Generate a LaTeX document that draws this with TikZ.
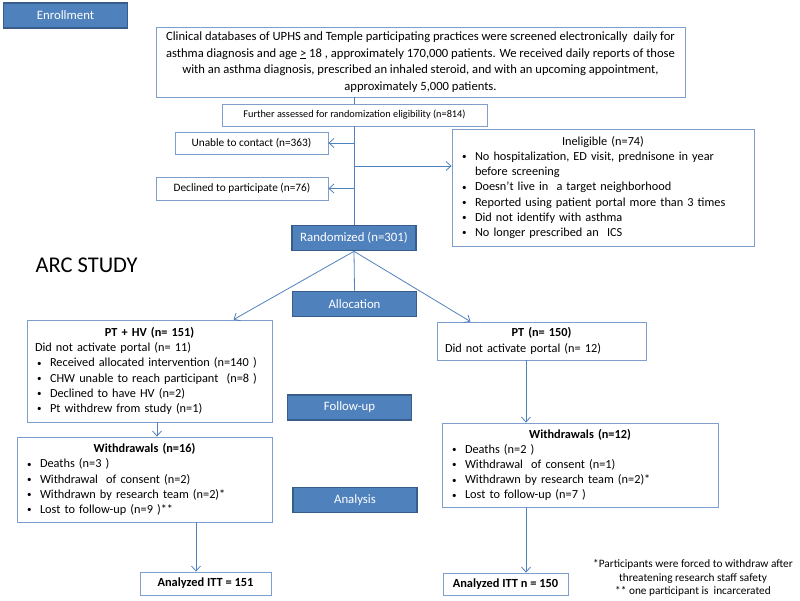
\documentclass[tikz,border=0pt]{standalone}
\usepackage{fontspec}
\setmainfont{Carlito}
\usetikzlibrary{arrows.meta}

\definecolor{arrline}{RGB}{79,129,189}
\definecolor{boxline}{RGB}{126,158,206}
\definecolor{phasefill}{RGB}{79,129,189}
\definecolor{phaseline}{RGB}{56,93,138}

\newcommand{\itm}{\hspace*{2pt}\makebox[13pt][l]{\raisebox{0.6pt}{\fontsize{9}{9}\selectfont\textbullet}}}
\newcommand{\ttl}[1]{\makebox[\linewidth]{\textbf{#1}}}

\tikzset{
  box/.style={draw=boxline, fill=white, line width=0.8pt, inner xsep=8pt, inner ysep=0pt,
    font=\fontsize{12.3}{15.2}\selectfont},
  smallbox/.style={box, font=\fontsize{11.3}{13}\selectfont, inner xsep=0pt},
  phase/.style={draw=phaseline, line width=1.6pt, fill=phasefill, text=white,
    minimum width=124pt, minimum height=25pt, inner sep=0pt, font=\fontsize{12.8}{14}\selectfont},
  link/.style={draw=arrline, line width=0.8pt},
  arr/.style={link, ->},
}

\begin{document}
\begin{tikzpicture}[x=1pt,y=-1pt,>={Straight Barb[length=5pt,width=9pt]}]

\useasboundingbox (0,0) rectangle (800,600);

% The phase labels
\node[phase] (enroll) at (65.5,15.5) {Enrollment};
\node[phase] (random) at (354,238) {Randomized (n=301)};
\node[phase] (alloc) at (354.5,304) {Allocation};
\node[phase] (follow) at (349.5,407.5) {Follow-up};
\node[phase] (analysis) at (355,500) {Analysis};

\node[anchor=west, font=\fontsize{22.5}{26}\selectfont] (arc) at (32,265) {ARC STUDY};

% The enrollment part
\node[box, minimum width=529pt, minimum height=70pt, font=\fontsize{12.6}{16.7}\selectfont, align=center, inner xsep=0pt] (screen) at (420.5,62)
  {Clinical databases of UPHS and Temple participating practices were screened electronically\ \ daily for\\
   asthma diagnosis and age \underline{>} 18 , approximately 170,000 patients. We received daily reports of those\\
   with an asthma diagnosis, prescribed an inhaled steroid, and with an upcoming appointment,\\
   approximately 5,000 patients.};
\node[smallbox, minimum width=265pt, minimum height=22pt, font=\fontsize{10.3}{12}\selectfont] (assess) at (354.5,115) {Further assessed for randomization eligibility (n=814)};
\node[smallbox, minimum width=153pt, minimum height=22pt] (unable) at (251.5,143) {Unable to contact (n=363)};
\node[smallbox, minimum width=172pt, minimum height=23pt] (declined) at (242,188.5) {Declined to participate (n=76)};
\node[box, text width=286pt, minimum height=117pt, align=left] (inelig) at (603,187.5)
  {\ttl{\normalfont Ineligible (n=74)}\\
   \itm No hospitalization, ED visit, prednisone in year\\
   \hspace*{15pt}before screening\\
   \itm Doesn’t live in\ \ a target neighborhood\\
   \itm Reported using patient portal more than 3 times\\
   \itm Did not identify with asthma\\
   \itm No longer prescribed an\ \ ICS};

\draw[link] (screen.south -| random) -- (assess.north -| random);
\draw[link] (assess.south -| random) -- (random.north);
\draw[arr] (unable.east -| random) -- (unable.east);
\draw[arr] (declined.east -| random) -- (declined.east);
\coordinate (tap) at (354,166);
\draw[arr] (tap) -- (tap -| inelig.west);

% The two arms
\node[box, text width=229pt, minimum height=102pt, align=left] (pthv) at (149.5,371)
  {\ttl{PT + HV (n= 151)}\\
   Did not activate portal (n= 11)\\
   \itm Received allocated intervention (n=140 )\\
   \itm CHW unable to reach participant\ \ (n=8 )\\
   \itm Declined to have HV (n=2)\\
   \itm Pt withdrew from study (n=1)};
\node[box, text width=193pt, minimum height=38pt, align=left] (pt) at (541.5,341)
  {\ttl{PT (n= 150)}\\
   Did not activate portal (n= 12)};

\draw[link] (random.south) -- (alloc.north);
\draw[arr] (random.south) -- ([xshift=84pt]pthv.north);
\draw[arr] (random.south) -- ([xshift=-71pt]pt.north);

% The withdrawals
\node[box, text width=239pt, minimum height=85pt, align=left] (wdl) at (144.5,479.5)
  {\ttl{Withdrawals (n=16)}\\
   \itm Deaths (n=3 )\\
   \itm Withdrawal\ \ of consent (n=2)\\
   \itm Withdrawn by research team (n=2)*\\
   \itm Lost to follow-up (n=9 )**};
\node[box, text width=260pt, minimum height=84pt, align=left] (wdr) at (580,465)
  {\ttl{Withdrawals (n=12)}\\
   \itm Deaths (n=2 )\\
   \itm Withdrawal\ \ of consent (n=1)\\
   \itm Withdrawn by research team (n=2)*\\
   \itm Lost to follow-up (n=7 )};

\draw[arr] ([xshift=7.5pt]pthv.south) -- ([xshift=7.5pt]pthv.south |- wdl.north);
\draw[arr] ([xshift=-15.5pt]pt.south) -- ([xshift=-15.5pt]pt.south |- wdr.north);

% The analysis
\node[box, minimum width=131pt, minimum height=23pt, inner xsep=0pt, font=\fontsize{12.4}{14}\selectfont\bfseries] (itl) at (205.5,583.5) {Analyzed ITT = 151};
\node[box, minimum width=125pt, minimum height=22pt, inner xsep=0pt, font=\fontsize{12.4}{14}\selectfont\bfseries] (itr) at (505.5,584) {Analyzed ITT n = 150};

\draw[arr] ([xshift=51.5pt]wdl.south) -- ([xshift=51.5pt]wdl.south |- itl.north);
\draw[arr] ([xshift=-54pt]wdr.south) -- ([xshift=-54pt]wdr.south |- itr.north);

\node[align=center, inner sep=0pt, font=\fontsize{11.3}{13.5}\selectfont] (foot) at (693,578)
  {*Participants were forced to withdraw after\\
   threatening research staff safety\\
   ** one participant is\ \ incarcerated};

\end{tikzpicture}
\end{document}
